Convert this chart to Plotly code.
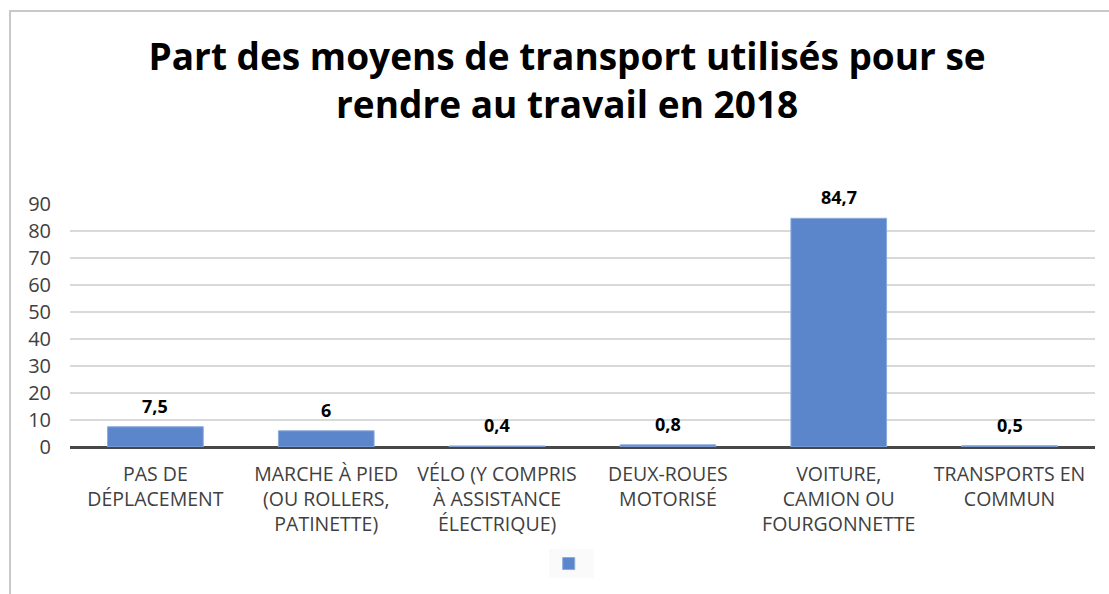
import plotly.graph_objects as go

# Modes de transport domicile-travail (2018), en %
categories = [
    "PAS DE<br>DÉPLACEMENT",
    "MARCHE À PIED<br>(OU ROLLERS,<br>PATINETTE)",
    "VÉLO (Y COMPRIS<br>À ASSISTANCE<br>ÉLECTRIQUE)",
    "DEUX-ROUES<br>MOTORISÉ",
    "VOITURE,<br>CAMION OU<br>FOURGONNETTE",
    "TRANSPORTS EN<br>COMMUN",
]
values = [7.5, 6, 0.4, 0.8, 84.7, 0.5]
y_ticks = [0, 10, 20, 30, 40, 50, 60, 70, 80, 90]

BAR = "#5b86cc"

fig = go.Figure()
fig.add_trace(go.Bar(
    x=categories,
    y=values,
    name="",
    marker=dict(color=BAR, line=dict(color="#8eaadb", width=1)),
    showlegend=True,
    hoverinfo="x+y",
))

# Étiquettes de valeur au-dessus des barres (virgule décimale)
def fmt(v):
    return (f"{v:g}").replace(".", ",")

for c, v in zip(categories, values):
    fig.add_annotation(
        x=c, y=v, text=f"<b>{fmt(v)}</b>",
        showarrow=False, yanchor="bottom", yshift=7,
        font=dict(family="Open Sans", size=18, color="#000000"),
    )

# Cadre du graphique
fig.add_shape(
    type="rect", xref="paper", yref="paper",
    x0=-0.0585, x1=1.2, y0=-0.8, y1=1.794,
    line=dict(color="#c8c8c8", width=2), fillcolor="rgba(0,0,0,0)",
    layer="below",
)

fig.update_layout(
    width=1109, height=594,
    margin=dict(l=70, r=14, t=204, b=147),
    paper_bgcolor="white", plot_bgcolor="white",
    bargap=0.44,
    title=dict(
        text="<b>Part des moyens de transport utilisés pour se<br>rendre au travail en 2018</b>",
        x=0.485, xanchor="center", xref="paper",
        y=0.882, yanchor="middle",
        font=dict(family="Open Sans", size=37, color="#000000"),
    ),
    xaxis=dict(
        showgrid=False, showline=False, ticks="",
        tickfont=dict(family="Open Sans", size=19.5, color="#404040"),
        ticklabelstandoff=13,
    ),
    yaxis=dict(
        range=[0, 90], tickvals=y_ticks,
        showgrid=True, gridcolor="#d9d9d9", gridwidth=1.5,
        zeroline=True, zerolinecolor="#474747", zerolinewidth=3,
        tickfont=dict(family="Open Sans", size=20, color="#404040"),
        ticklabelstandoff=18,
    ),
    legend=dict(
        orientation="h", x=0.489, xanchor="center",
        y=-0.42, yanchor="top",
        bgcolor="#fafafa", font=dict(size=12),
    ),
)

fig.write_html("out.html")
